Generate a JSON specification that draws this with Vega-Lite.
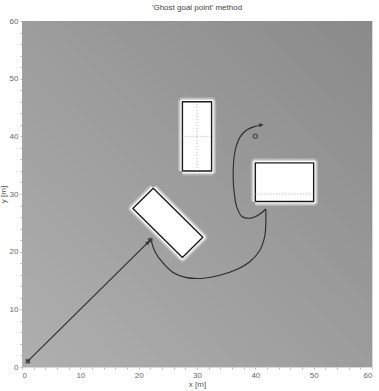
{
  "$schema": "https://vega.github.io/schema/vega-lite/v6.json",
  "width": 350,
  "height": 346,
  "autosize": {"type": "none"},
  "padding": {"left": 22, "top": 21, "right": 7, "bottom": 24},
  "background": "white",
  "title": {"text": "'Ghost goal point' method", "fontSize": 8, "fontWeight": "normal", "font": "Liberation Sans", "color": "#444", "offset": 5},
  "config": {
    "view": {"stroke": "#d8d8d8", "strokeWidth": 1},
    "axis": {"labelFont": "Liberation Sans", "titleFont": "Liberation Sans", "labelFontSize": 8, "titleFontSize": 8, "titleFontWeight": "normal", "labelColor": "#666", "titleColor": "#555", "domain": false, "grid": false, "tickColor": "#bbb", "tickSize": 2, "labelPadding": 2}
  },
  "datasets": {
    "bg": [{"x": 0, "x2": 60, "y": 0, "y2": 60}],
    "obstacles": [
      {"obs": "A", "i": 0, "x": 27.5, "y": 34},
      {"obs": "A", "i": 1, "x": 32.5, "y": 34},
      {"obs": "A", "i": 2, "x": 32.5, "y": 46},
      {"obs": "A", "i": 3, "x": 27.5, "y": 46},
      {"obs": "A", "i": 4, "x": 27.5, "y": 34},
      {"obs": "B", "i": 0, "x": 40, "y": 28.7},
      {"obs": "B", "i": 1, "x": 50, "y": 28.7},
      {"obs": "B", "i": 2, "x": 50, "y": 35.4},
      {"obs": "B", "i": 3, "x": 40, "y": 35.4},
      {"obs": "B", "i": 4, "x": 40, "y": 28.7},
      {"obs": "C", "i": 0, "x": 22.5, "y": 31},
      {"obs": "C", "i": 1, "x": 31, "y": 22.5},
      {"obs": "C", "i": 2, "x": 27.5, "y": 19},
      {"obs": "C", "i": 3, "x": 19, "y": 27.5},
      {"obs": "C", "i": 4, "x": 22.5, "y": 31}
    ],
    "guides": [
      {"x": 30, "y": 34, "x2": 30, "y2": 46},
      {"x": 27.5, "y": 40, "x2": 32.5, "y2": 40},
      {"x": 40, "y": 30, "x2": 50, "y2": 30}
    ],
    "paths": [
      {"path": "p1", "i": 0, "x": 1, "y": 1},
      {"path": "p1", "i": 1, "x": 22, "y": 22},
      {"path": "p2a", "i": 0, "x": 22.2, "y": 21.7},
      {"path": "p2a", "i": 1, "x": 22.8, "y": 20.0},
      {"path": "p2a", "i": 2, "x": 24.2, "y": 18.0},
      {"path": "p2a", "i": 3, "x": 25.9, "y": 16.4},
      {"path": "p2a", "i": 4, "x": 28.2, "y": 15.5},
      {"path": "p2a", "i": 5, "x": 31.1, "y": 15.4},
      {"path": "p2a", "i": 6, "x": 33.9, "y": 15.9},
      {"path": "p2a", "i": 7, "x": 36.8, "y": 16.9},
      {"path": "p2a", "i": 8, "x": 39.1, "y": 18.3},
      {"path": "p2a", "i": 9, "x": 40.8, "y": 20.3},
      {"path": "p2a", "i": 10, "x": 41.6, "y": 22.6},
      {"path": "p2a", "i": 11, "x": 41.8, "y": 24.9},
      {"path": "p2a", "i": 12, "x": 41.8, "y": 27.4},
      {"path": "p2b", "i": 0, "x": 41.8, "y": 27.4},
      {"path": "p2b", "i": 1, "x": 40.6, "y": 26.4},
      {"path": "p2b", "i": 2, "x": 39.1, "y": 25.8},
      {"path": "p2b", "i": 3, "x": 37.7, "y": 26.1},
      {"path": "p2b", "i": 4, "x": 36.8, "y": 27.8},
      {"path": "p2b", "i": 5, "x": 36.4, "y": 30.1},
      {"path": "p2b", "i": 6, "x": 36.2, "y": 32.6},
      {"path": "p2b", "i": 7, "x": 36.3, "y": 35.9},
      {"path": "p2b", "i": 8, "x": 36.7, "y": 38.2},
      {"path": "p2b", "i": 9, "x": 37.4, "y": 39.9},
      {"path": "p2b", "i": 10, "x": 38.5, "y": 41.1},
      {"path": "p2b", "i": 11, "x": 39.9, "y": 41.7},
      {"path": "p2b", "i": 12, "x": 41.3, "y": 42.0}
    ],
    "points": [
      {"kind": "start", "x": 1, "y": 1},
      {"kind": "ghost", "x": 22, "y": 22},
      {"kind": "goal", "x": 40, "y": 40},
      {"kind": "arrow1", "x": 21.6, "y": 21.6},
      {"kind": "arrow2", "x": 41.0, "y": 42.0}
    ]
  },
  "encoding": {
    "x": {"field": "x", "type": "quantitative", "scale": {"domain": [0, 60], "nice": false, "zero": false},
      "axis": {"title": "x [m]", "values": [0,2,4,6,8,10,12,14,16,18,20,22,24,26,28,30,32,34,36,38,40,42,44,46,48,50,52,54,56,58,60], "labelExpr": "datum.value % 10 === 0 ? datum.label : ''", "titlePadding": 1}},
    "y": {"field": "y", "type": "quantitative", "scale": {"domain": [0, 60], "nice": false, "zero": false},
      "axis": {"title": "y [m]", "values": [0,2,4,6,8,10,12,14,16,18,20,22,24,26,28,30,32,34,36,38,40,42,44,46,48,50,52,54,56,58,60], "labelExpr": "datum.value % 10 === 0 ? datum.label : ''", "titlePadding": 2}}
  },
  "layer": [
    {
      "data": {"name": "bg"},
      "mark": {"type": "rect", "color": {"gradient": "linear", "x1": 0, "y1": 1, "x2": 1, "y2": 0, "stops": [{"offset": 0, "color": "#afafaf"}, {"offset": 1, "color": "#8a8a8a"}]}},
      "encoding": {"x2": {"field": "x2"}, "y2": {"field": "y2"}}
    },
    {
      "data": {"name": "obstacles"},
      "mark": {"type": "line", "stroke": "white", "strokeWidth": 9, "opacity": 0.25, "strokeJoin": "round"},
      "encoding": {"detail": {"field": "obs"}, "order": {"field": "i"}}
    },
    {
      "data": {"name": "obstacles"},
      "mark": {"type": "line", "stroke": "white", "strokeWidth": 6, "opacity": 0.5, "strokeJoin": "round"},
      "encoding": {"detail": {"field": "obs"}, "order": {"field": "i"}}
    },
    {
      "data": {"name": "obstacles"},
      "mark": {"type": "line", "stroke": "white", "strokeWidth": 3.5, "opacity": 1, "strokeJoin": "round"},
      "encoding": {"detail": {"field": "obs"}, "order": {"field": "i"}}
    },
    {
      "data": {"name": "obstacles"},
      "mark": {"type": "line", "stroke": "#1a1a1a", "fill": "white", "strokeWidth": 1.4, "strokeJoin": "round"},
      "encoding": {"detail": {"field": "obs"}, "order": {"field": "i"}}
    },
    {
      "data": {"name": "guides"},
      "mark": {"type": "rule", "color": "#999", "strokeWidth": 0.8, "strokeDash": [1, 2]},
      "encoding": {"x2": {"field": "x2"}, "y2": {"field": "y2"}}
    },
    {
      "data": {"name": "paths"},
      "mark": {"type": "line", "color": "#2a2a2a", "strokeWidth": 1.1, "interpolate": "catmull-rom"},
      "encoding": {"detail": {"field": "path"}, "order": {"field": "i"}}
    },
    {
      "data": {"name": "points"},
      "transform": [{"filter": "datum.kind === 'start' || datum.kind === 'ghost'"}],
      "mark": {"type": "point", "shape": "cross", "angle": 45, "size": 30, "filled": true, "color": "#222"}
    },
    {
      "data": {"name": "points"},
      "transform": [{"filter": "datum.kind === 'goal'"}],
      "mark": {"type": "point", "shape": "circle", "size": 18, "filled": false, "color": "#333", "strokeWidth": 1.3}
    },
    {
      "data": {"name": "points"},
      "transform": [{"filter": "datum.kind === 'arrow1'"}],
      "mark": {"type": "point", "shape": "triangle-right", "angle": -45, "size": 22, "filled": true, "color": "#222"}
    },
    {
      "data": {"name": "points"},
      "transform": [{"filter": "datum.kind === 'arrow2'"}],
      "mark": {"type": "point", "shape": "triangle-right", "angle": -12, "size": 22, "filled": true, "color": "#222"}
    }
  ]
}
